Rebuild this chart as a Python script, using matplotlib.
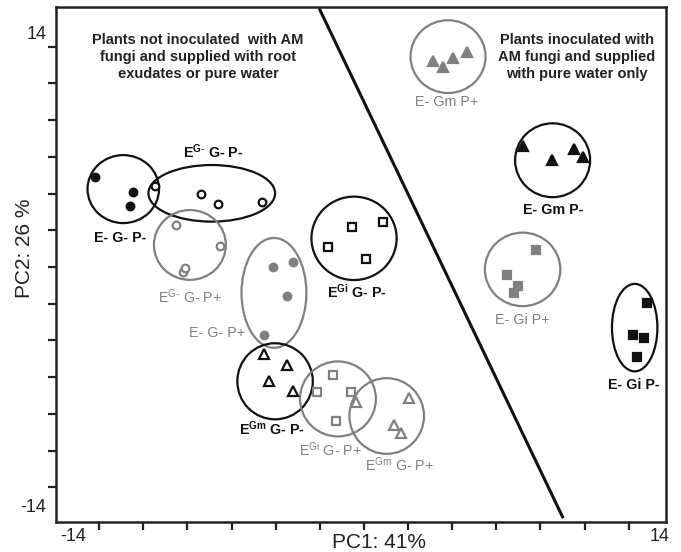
import matplotlib.pyplot as plt
from matplotlib.patches import Ellipse

plt.rcParams['font.family'] = ['Liberation Sans', 'DejaVu Sans']
plt.rcParams['mathtext.fontset'] = 'custom'
plt.rcParams['mathtext.rm'] = 'Liberation Sans'
plt.rcParams['mathtext.bf'] = 'Liberation Sans:bold'

BLACK = '#111111'
GRAY = '#808080'

# PCA scores, one small list per treatment
e_g_pm_x = [-12.19, -10.46, -10.61]
e_g_pm_y = [4.91, 4.07, 3.34]
eg_g_pm_x = [-9.47, -7.40, -6.60, -4.64]
eg_g_pm_y = [4.42, 3.97, 3.41, 3.55]
eg_g_pp_x = [-8.52, -6.53, -8.19, -8.09]
eg_g_pp_y = [2.29, 1.14, -0.26, -0.05]
egi_g_pm_x = [-0.56, 0.87, -1.65, 0.09]
egi_g_pm_y = [2.19, 2.47, 1.07, 0.44]
e_g_pp_x = [-4.14, -3.20, -3.48, -4.53]
e_g_pp_y = [0.02, 0.26, -1.58, -3.70]
egm_g_pm_x = [-4.52, -3.50, -4.29, -3.20]
egm_g_pm_y = [-4.75, -5.33, -6.19, -6.75]
egi_g_pp_x = [-1.39, -2.14, -0.60, -1.27]
egi_g_pp_y = [-5.88, -6.79, -6.79, -8.38]
egm_g_pp_x = [-0.36, 2.04, 1.36, 1.68]
egm_g_pp_y = [-7.33, -7.15, -8.60, -9.05]
e_gm_pp_x = [3.14, 3.59, 4.05, 4.68]
e_gm_pp_y = [11.21, 10.90, 11.36, 11.72]
e_gm_pm_x = [7.22, 8.51, 9.52, 9.94]
e_gm_pm_y = [6.59, 5.82, 6.41, 6.00]
e_gi_pp_x = [7.80, 6.50, 6.99, 6.80]
e_gi_pp_y = [0.93, -0.44, -1.03, -1.40]
e_gi_pm_x = [12.82, 12.18, 12.69, 12.36]
e_gi_pm_y = [-1.94, -3.70, -3.85, -4.88]

# group ellipses: centre, half width, half height
ell_cx = [-10.91, -6.90, -7.89, -0.45, -4.08, -4.03, -1.18, 1.03, 3.81, 8.55, 7.19, 12.27]
ell_cy = [4.24, 4.01, 1.20, 1.56, -1.41, -6.22, -7.18, -8.11, 11.45, 5.81, -0.13, -3.30]
ell_rx = [1.62, 2.87, 1.63, 1.93, 1.47, 1.71, 1.72, 1.69, 1.70, 1.70, 1.71, 1.03]
ell_ry = [1.85, 1.54, 1.90, 2.27, 2.99, 2.07, 2.04, 2.06, 1.98, 2.01, 2.00, 2.38]
ell_dark = [True, True, False, True, False, True, False, False, False, True, False, True]

labels = [r'E- G- P-', r'E$^{\mathbf{G}\text{-}}$ G- P-', r'E$^{\text{G-}}$ G- P+',
          r'E$^{\mathbf{Gi}}$ G- P-', r'E- G- P+', r'E$^{\mathbf{Gm}}$ G- P-',
          r'E$^{\text{Gi}}$ G- P+', r'E$^{\text{Gm}}$ G- P+', r'E- Gm P+',
          r'E- Gm P-', r'E- Gi P+', r'E- Gi P-']
label_x = [-11.06, -6.83, -7.89, -0.33, -6.68, -4.18, -1.54, 1.63, 3.75, 8.58, 7.19, 12.21]
label_y = [1.56, 6.27, -1.62, -1.34, -3.61, -8.78, -9.96, -10.78, 9.0, 3.10, -2.88, -6.42]

# boundary line between the two sets of treatments
sep_x = [-2.0, 9.0]
sep_y = [14.0, -13.6]

fig = plt.figure(figsize=(6.81, 5.52), dpi=100)
ax = fig.add_axes([0.0822, 0.0543, 0.8958, 0.933])

ms = 5.5
ew = 1.6
series = [
    (e_g_pm_x, e_g_pm_y, 'o', BLACK, BLACK),
    (eg_g_pm_x, eg_g_pm_y, 'o', 'white', BLACK),
    (eg_g_pp_x, eg_g_pp_y, 'o', 'white', GRAY),
    (egi_g_pm_x, egi_g_pm_y, 's', 'white', BLACK),
    (e_g_pp_x, e_g_pp_y, 'o', GRAY, GRAY),
    (egm_g_pm_x, egm_g_pm_y, '^', 'white', BLACK),
    (egi_g_pp_x, egi_g_pp_y, 's', 'white', GRAY),
    (egm_g_pp_x, egm_g_pp_y, '^', 'white', GRAY),
    (e_gm_pp_x, e_gm_pp_y, '^', GRAY, GRAY),
    (e_gm_pm_x, e_gm_pm_y, '^', BLACK, BLACK),
    (e_gi_pp_x, e_gi_pp_y, 's', GRAY, GRAY),
    (e_gi_pm_x, e_gi_pm_y, 's', BLACK, BLACK),
]
for xs, ys, mk, fc, ec in series:
    size = ms + 1.5 if mk == '^' else ms
    ax.plot(xs, ys, linestyle='none', marker=mk, markersize=size,
            markerfacecolor=fc, markeredgecolor=ec, markeredgewidth=ew, zorder=3)

for cx, cy, rx, ry, dark in zip(ell_cx, ell_cy, ell_rx, ell_ry, ell_dark):
    ax.add_patch(Ellipse((cx, cy), 2 * rx, 2 * ry, fill=False,
                         edgecolor=BLACK if dark else GRAY, linewidth=1.6, zorder=2))

for i, (txt, lx, ly) in enumerate(zip(labels, label_x, label_y)):
    dark = ell_dark[i]
    ax.text(lx, ly, txt, ha='center', va='center', fontsize=10.3,
            color=BLACK if dark else GRAY, fontweight='bold' if dark else 'normal')

ax.plot(sep_x, sep_y, color=BLACK, linewidth=2.2, zorder=1)

ax.text(-7.52, 11.42, 'Plants not inoculated  with AM\nfungi and supplied with root\nexudates or pure water',
        ha='center', va='center', fontsize=10.5, fontweight='bold', color='#222222', linespacing=1.28)
ax.text(9.66, 11.42, 'Plants inoculated with\nAM fungi and supplied\nwith pure water only',
        ha='center', va='center', fontsize=10.5, fontweight='bold', color='#222222', linespacing=1.28)

ax.set_xlim(-13.96, 13.69)
ax.set_ylim(-13.88, 14.15)
ax.set_xticks(range(-12, 13, 2))
ax.set_yticks(range(-12, 13, 2))
ax.set_xticklabels([])
ax.set_yticklabels([])
ax.tick_params(direction='out', length=6, width=1.6, color='#222222')
for sp in ax.spines.values():
    sp.set_linewidth(1.8)
    sp.set_color('#222222')

ax.text(-0.031, 0.946, '14', transform=ax.transAxes, ha='center', va='center', fontsize=13, color='#222222')
ax.text(-0.038, 0.029, '-14', transform=ax.transAxes, ha='center', va='center', fontsize=13, color='#222222')
ax.text(0.028, -0.029, '-14', transform=ax.transAxes, ha='center', va='center', fontsize=13, color='#222222')
ax.text(0.990, -0.029, '14', transform=ax.transAxes, ha='center', va='center', fontsize=13, color='#222222')
ax.text(0.529, -0.039, 'PC1: 41%', transform=ax.transAxes, ha='center', va='center', fontsize=15, color='#222222')
ax.text(-0.052, 0.532, 'PC2: 26 %', transform=ax.transAxes, ha='center', va='center', fontsize=15,
        rotation=90, color='#222222')

fig.savefig('out.png', dpi=100)
